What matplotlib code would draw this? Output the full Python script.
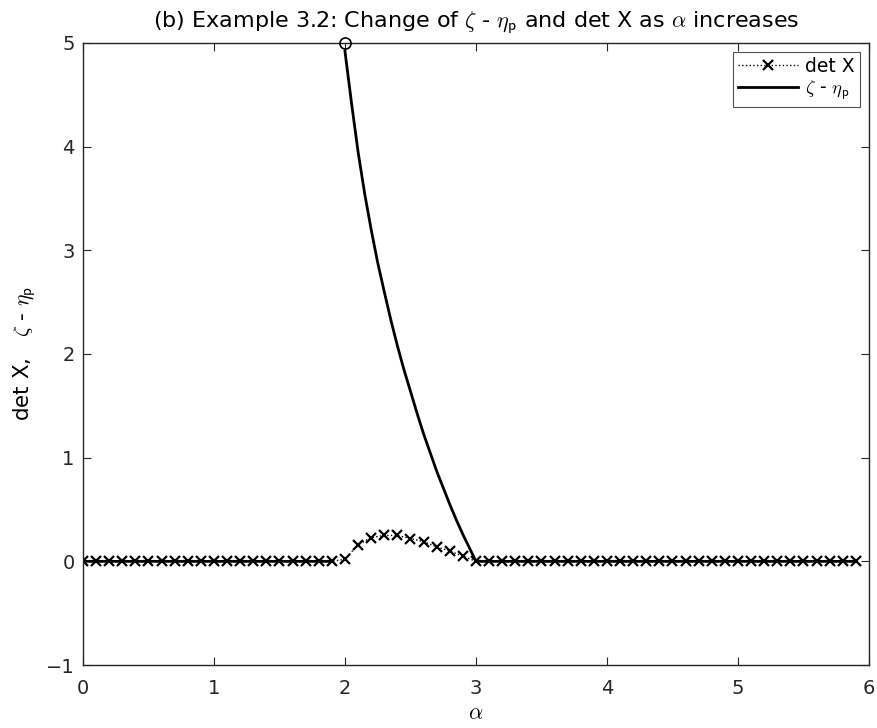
import numpy as np
import matplotlib
matplotlib.use('Agg')
import matplotlib.pyplot as plt

plt.rcParams['mathtext.fontset'] = 'cm'
plt.rcParams['font.family'] = 'DejaVu Sans'

# det X sampled at alpha = 0, 0.1, ..., 5.9
alpha = np.round(np.arange(0, 6.0, 0.1), 1)
det_x = np.zeros(len(alpha))
bump_alpha = [2.0, 2.1, 2.2, 2.3, 2.4, 2.5, 2.6, 2.7, 2.8, 2.9, 3.0]
bump_vals = [0.02, 0.16, 0.23, 0.25, 0.25, 0.22, 0.19, 0.14, 0.10, 0.05, 0.0]
for a, v in zip(bump_alpha, bump_vals):
    det_x[np.isclose(alpha, a)] = v

# zeta - eta_p : zero before 2, drops from 5 to 0 between 2 and 3, zero after
zeta_left_a = [0.0, 1.9]
zeta_left = [0.0, 0.0]
zeta_mid_a = [2.0, 2.05, 2.1, 2.15, 2.2, 2.25, 2.3, 2.35, 2.4, 2.45, 2.5,
              2.55, 2.6, 2.65, 2.7, 2.75, 2.8, 2.85, 2.9, 2.95, 3.0]
zeta_mid = [4.92, 4.42, 3.95, 3.55, 3.2, 2.88, 2.6, 2.33, 2.08, 1.85, 1.64,
            1.43, 1.23, 1.05, 0.87, 0.71, 0.55, 0.40, 0.26, 0.13, 0.0]
zeta_right_a = [3.0, 5.9]
zeta_right = [0.0, 0.0]
start_pt = (2.0, 5.0)

zlabel = r'$\zeta$ - $\eta_\mathsf{p}$'

fig = plt.figure(figsize=(8.78, 7.28), dpi=100)
ax = fig.add_axes([0.0945, 0.0865, 0.8952, 0.8545])

ax.plot(alpha, det_x, linestyle=':', color='k', linewidth=1.0,
        marker='x', markersize=7, markeredgewidth=1.6, label='det X')
zeta_a = zeta_left_a + [np.nan] + zeta_mid_a + zeta_right_a[1:]
zeta = zeta_left + [np.nan] + zeta_mid + zeta_right[1:]
ax.plot(zeta_a, zeta, color='k', linewidth=2.0, label=zlabel)
ax.plot([start_pt[0]], [start_pt[1]], marker='o', markersize=8,
        markerfacecolor='none', markeredgecolor='k', markeredgewidth=1.2,
        linestyle='none', clip_on=False, zorder=5)

ax.set_xlim(0, 6)
ax.set_ylim(-1, 5)
ax.set_xticks(range(0, 7))
ax.set_yticks(range(-1, 6))
ax.tick_params(direction='in', length=6, labelsize=14, colors='0.15',
               top=True, right=True)
ax.tick_params(axis='x', pad=10)
ax.tick_params(axis='y', pad=6)
for s in ax.spines.values():
    s.set_color('0.15')
    s.set_linewidth(1.0)

ax.set_title(r'(b) Example 3.2: Change of $\zeta$ - $\eta_\mathsf{p}$ and det X as $\alpha$ increases',
             fontsize=16, pad=11)
ax.set_xlabel(r'$\alpha$', fontsize=16, labelpad=4)
ax.set_ylabel(r'det X,   ' + zlabel, fontsize=15.5, labelpad=6)

leg = ax.legend(loc='upper right', fontsize=13.5, frameon=True, fancybox=False,
                edgecolor='0.15', handlelength=3.2, borderaxespad=0.5,
                labelspacing=0.15, handletextpad=0.4, borderpad=0.25)
leg.get_frame().set_linewidth(0.8)

plt.savefig('out.png', dpi=100)
